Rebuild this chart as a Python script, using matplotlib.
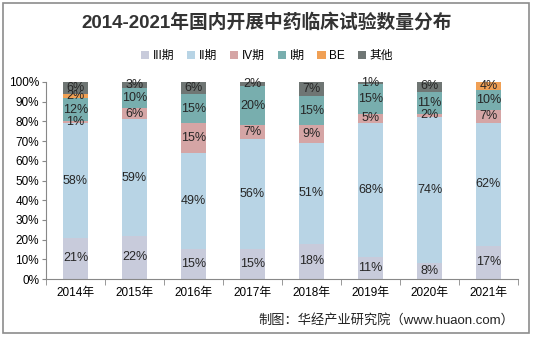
import numpy as np
import matplotlib
matplotlib.use('Agg')
import matplotlib.pyplot as plt
from matplotlib.patches import Rectangle

plt.rcParams['font.family'] = ['Liberation Sans', 'Noto Sans CJK SC']

years = ['2014年', '2015年', '2016年', '2017年', '2018年', '2019年', '2020年', '2021年']
series_names = ['III期', 'II期', 'IV期', 'I期', 'BE', '其他']
phase3 = [21, 22, 15, 15, 18, 11, 8, 17]
phase2 = [58, 59, 49, 56, 51, 68, 74, 62]
phase4 = [1, 6, 15, 7, 9, 5, 2, 7]
phase1 = [12, 10, 15, 20, 15, 15, 11, 10]
be = [2, 0, 0, 0, 0, 0, 0, 4]
other = [6, 3, 6, 2, 7, 1, 6, 0]
colors = ['#c8cbdb', '#b8d4e5', '#d5a5a5', '#78aeae', '#f0a055', '#6f7674']

data = [phase3, phase2, phase4, phase1, be, other]

fig = plt.figure(figsize=(5.34, 3.37), dpi=100)
ax = fig.add_axes([46/534, 1-279/337, 472/534, 197/337])

x = np.arange(len(years))
bottom = np.zeros(len(years))
for name, vals, c in zip(series_names, data, colors):
    vals = np.array(vals, dtype=float)
    ax.bar(x, vals, 0.41, bottom=bottom, color=c, label=name)
    for xi, b, v in zip(x, bottom, vals):
        if v > 0:
            ax.text(xi, b + v/2, '%d%%' % v, ha='center', va='center',
                    fontsize=9, color='#262626')
    bottom += vals

ax.set_xlim(-0.5, len(years) - 0.5)
ax.set_ylim(0, 100)
ax.set_yticks(np.arange(0, 101, 10))
ax.set_yticklabels(['%d%%' % v for v in range(0, 101, 10)], fontsize=8.5)
ax.set_xticks(x)
ax.set_xticklabels(years, fontsize=8.5)
ax.set_xticks(np.arange(-0.5, len(years)), minor=True)
ax.tick_params(axis='x', which='major', length=0, pad=6)
ax.tick_params(axis='x', which='minor', length=4, color='#888888')
ax.tick_params(axis='y', length=3, color='#888888', pad=2)
for s in ['top', 'right']:
    ax.spines[s].set_visible(False)
for s in ['left', 'bottom']:
    ax.spines[s].set_color('#888888')

fig.text(0.5, 1-22/337, '2014-2021年国内开展中药临床试验数量分布', ha='center', va='center',
         fontsize=13.5, fontweight='bold', color='#333333')
fig.legend(loc='center', bbox_to_anchor=(0.5, 1-56/337), ncol=6, fontsize=8.5,
           frameon=False, handlelength=0.7, handleheight=0.7, handletextpad=0.3,
           columnspacing=1.1)

fig.text(514/534, 1-320/337, '制图：华经产业研究院（www.huaon.com）', ha='right', va='center',
         fontsize=9.5, color='#222222')

fig.patches.append(Rectangle((3/534, 4/337), 526/534, 330/337, transform=fig.transFigure,
                             fill=False, edgecolor='#8c8c8c', linewidth=1.2))

fig.savefig('out.png', dpi=100)
